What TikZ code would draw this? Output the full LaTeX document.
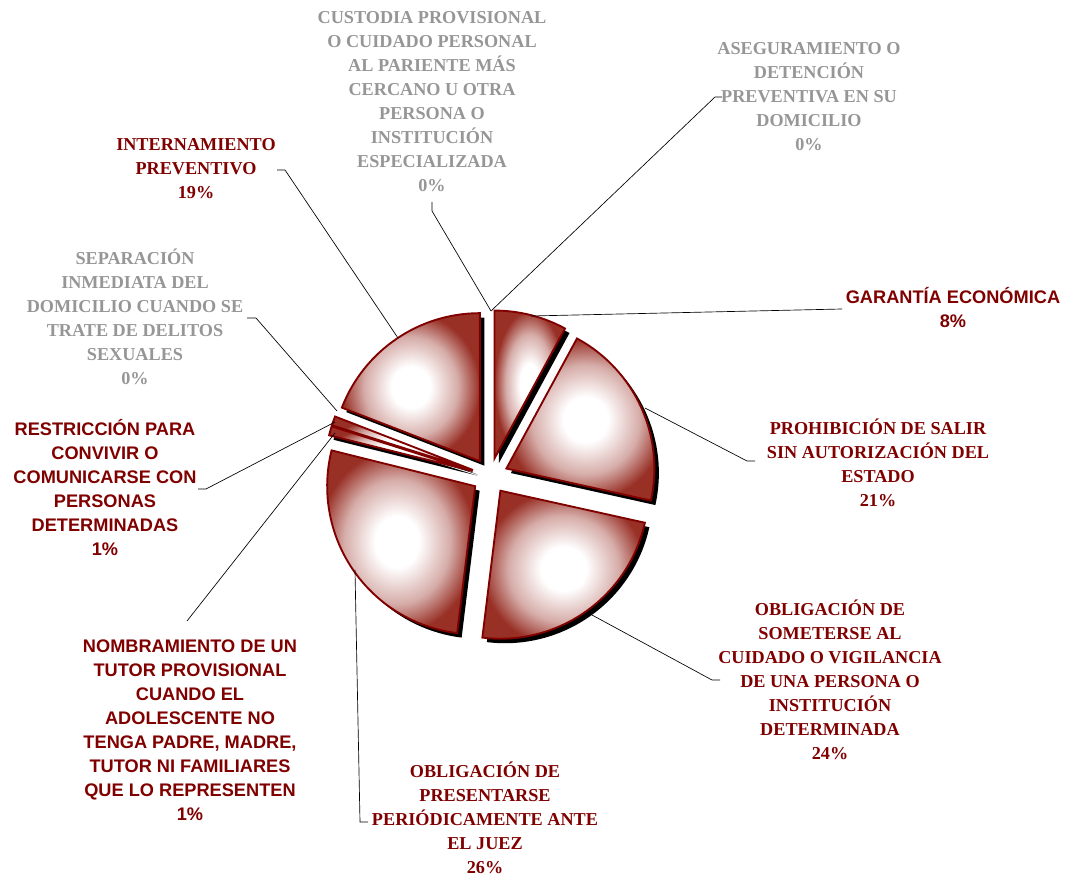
\documentclass[tikz,border=0pt]{standalone}
\usepackage{fontspec}
\setmainfont{Liberation Serif}
\newfontfamily\arialfont{Liberation Sans}
\usetikzlibrary{calc}

\definecolor{labred}{RGB}{128,0,0}
\definecolor{labgray}{RGB}{150,150,150}
\definecolor{piered}{RGB}{152,48,38}
\pgfdeclareradialshading{slicefill}{\pgfpoint{0bp}{0bp}}{color(0bp)=(white); color(7bp)=(white); color(17bp)=(piered!40!white); color(25bp)=(piered); color(50bp)=(piered)}

\tikzset{
  redlab/.style={align=center, inner sep=0pt, text=labred, font=\fontsize{13.65}{18}\selectfont\bfseries},
  graylab/.style={redlab, text=labgray},
  sanslab/.style={redlab, font=\fontsize{13.65}{18}\selectfont\arialfont\bfseries},
  leader/.style={draw=black, line width=0.5pt},
}

\begin{document}
\begin{tikzpicture}[x=0.75pt,y=0.75pt]
\useasboundingbox (0,0) rectangle (1065,-877);
\coordinate (ctr) at (490,-476);

% shadows first, then the slices
\foreach \a/\b in {61.5/90, -12.5/61.5, -97/-12.5, -194/-97, -197.6/-194, -201.2/-197.6, -270/-201.2}{
  \pgfmathsetmacro{\midang}{(\a+\b)/2}
  \fill[black] ($(ctr)+(\midang:18)+(4.5,-4.5)$) -- ++(\a:148) arc[start angle=\a, end angle=\b, radius=148] -- cycle;
}
\foreach \a/\b in {61.5/90, -12.5/61.5, -97/-12.5, -194/-97, -197.6/-194, -201.2/-197.6, -270/-201.2}{
  \pgfmathsetmacro{\midang}{(\a+\b)/2}
  \shadedraw[shading=slicefill, draw=labred, line width=1.4pt] ($(ctr)+(\midang:18)$) -- ++(\a:148) arc[start angle=\a, end angle=\b, radius=148] -- cycle;
}

% points on the pie
\coordinate (pTop) at (491,-311);
\coordinate (pGar) at (531,-316);
\coordinate (pProh) at (645,-408);
\coordinate (pSom) at (592,-615);
\coordinate (pPres) at (355,-570);
\coordinate (pNomb) at (335,-433);
\coordinate (pRestr) at (335,-422);
\coordinate (pSep) at (337,-411);
\coordinate (pInter) at (398,-338);

% labels
\node[graylab] (cust) at (432,-102) {CUSTODIA PROVISIONAL\\O CUIDADO PERSONAL\\AL PARIENTE MÁS\\CERCANO U OTRA\\PERSONA O\\INSTITUCIÓN\\ESPECIALIZADA\\0\%};
\node[graylab] (aseg) at (809,-97) {ASEGURAMIENTO O\\DETENCIÓN\\PREVENTIVA EN SU\\DOMICILIO\\0\%};
\node[redlab] (inter) at (196,-169) {INTERNAMIENTO\\PREVENTIVO\\19\%};
\node[graylab] (sep) at (135,-317) {SEPARACIÓN\\INMEDIATA DEL\\DOMICILIO CUANDO SE\\TRATE DE DELITOS\\SEXUALES\\0\%};
\node[sanslab] (gar) at (953,-308) {GARANTÍA ECONÓMICA\\8\%};
\node[redlab] (proh) at (878,-463) {PROHIBICIÓN DE SALIR\\SIN AUTORIZACIÓN DEL\\ESTADO\\21\%};
\node[sanslab] (restr) at (105,-488) {RESTRICCIÓN PARA\\CONVIVIR O\\COMUNICARSE CON\\PERSONAS\\DETERMINADAS\\1\%};
\node[redlab] (somet) at (830,-680) {OBLIGACIÓN DE\\SOMETERSE AL\\CUIDADO O VIGILANCIA\\DE UNA PERSONA O\\INSTITUCIÓN\\DETERMINADA\\24\%};
\node[sanslab] (nomb) at (190,-730) {NOMBRAMIENTO DE UN\\TUTOR PROVISIONAL\\CUANDO EL\\ADOLESCENTE NO\\TENGA PADRE, MADRE,\\TUTOR NI FAMILIARES\\QUE LO REPRESENTEN\\1\%};
\node[redlab] (pres) at (485,-818) {OBLIGACIÓN DE\\PRESENTARSE\\PERIÓDICAMENTE ANTE\\EL JUEZ\\26\%};

% leader lines
\coordinate (tCust) at (432,-202);
\coordinate (tAseg) at (722,-97);
\coordinate (tInter) at (277,-170);
\coordinate (tSep) at (247,-318);
\coordinate (tGar) at (842,-309);
\coordinate (tProh) at (755,-461);
\coordinate (tRestr) at (198,-489);
\coordinate (tNomb) at (187,-621);
\coordinate (tPres) at (368,-822);
\coordinate (tSom) at (720,-680);
\draw[leader] (tCust) -- ++(0,-9) -- (pTop);
\draw[leader] (tAseg) -- ++(-7,0) -- (pTop);
\draw[leader] (tInter) -- ++(8,0) -- (pInter);
\draw[leader] (tSep) -- ++(9,0) -- (pSep);
\draw[leader] (tGar) -- (pGar);
\draw[leader] (tProh) -- ++(-8,0) -- (pProh);
\draw[leader] (tRestr) -- ++(8,0) -- (pRestr);
\draw[leader] (tNomb) -- (pNomb);
\draw[leader] (tPres) -- ++(-8,0) -- (pPres);
\draw[leader] (tSom) -- ++(-8,0) -- (pSom);
\end{tikzpicture}
\end{document}
